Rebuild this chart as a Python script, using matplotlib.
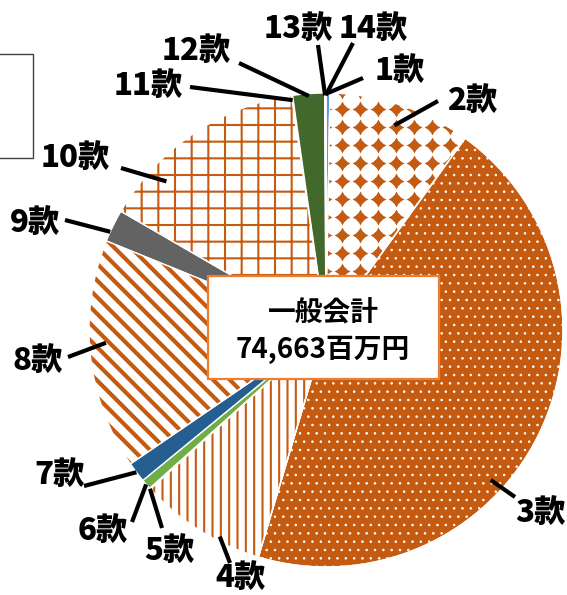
import numpy as np
import matplotlib
matplotlib.use('Agg')
import matplotlib.pyplot as plt
from matplotlib.patches import Wedge, Rectangle

plt.rcParams['font.family'] = ['Noto Sans CJK JP', 'DejaVu Sans']

# 一般会計 歳出内訳（百万円）
labels = ['1款', '2款', '3款', '4款', '5款', '6款', '7款',
          '8款', '9款', '10款', '11款', '12款', '13款', '14款']
values = [200, 7250, 33300, 6470, 60, 520, 1040,
          11700, 1660, 10680, 60, 1620, 30, 30]
total_text = ['一般会計', '74,663百万円']

ORANGE = '#C55A11'
colors = ['#5B9BD5', 'white', ORANGE, 'white', '#4472C4', '#70AD47', '#255E91',
          'white', '#636363', 'white', '#264478', '#43682B', '#698ED0', '#F1975A']
# hatch overlays: slice index -> (pattern, colour, hatch linewidth)
hatches = {2: ('..', 'white', 0.6), 3: ('||', ORANGE, 1.5),
           7: ('\\\\', ORANGE, 3.0), 9: ('+', ORANGE, 1.5)}
explode = [0, 0, 0.03, 0.01, 0.02, 0.02, 0.02, 0.04, 0.04, 0.01, 0, 0, 0, 0]

# layout (pixels, measured from the top-left corner)
W, H = 567, 595
cx, cy, R = 326, H - 330, 237
label_pos = [(400, 70), (472, 100), (540, 512), (240, 577), (169, 550), (103, 530), (60, 474),
             (38, 360), (35, 222), (75, 157), (148, 85), (196, 50), (298, 28), (373, 28)]
leader_from = [(363, 78), (438, 101), (515, 497), (230, 563), (162, 528), (132, 522), (84, 486),
               (68, 357), (65, 220), (121, 168), (190, 87), (239, 63), (318, 45), (353, 43)]
# where the leader touches its slice: (fraction along the slice, fraction of radius)
leader_at = [(0.5, 1.0), (0.5, 0.91), (0.6, 0.94), (0.34, 0.98), (0.5, 1.0), (0.5, 1.0), (0.5, 1.0),
             (0.55, 0.93), (0.3, 1.0), (0.25, 0.92), (0.5, 0.98), (0.5, 0.99), (0.5, 0.99), (0.5, 0.99)]

fig = plt.figure(figsize=(W / 100, H / 100), dpi=100)
ax = fig.add_axes([0, 0, 1, 1])

wedges, _ = ax.pie(values, colors=colors, startangle=90, counterclock=False,
                   explode=explode, radius=R, center=(cx, cy),
                   wedgeprops=dict(edgecolor='white', linewidth=1.0))

# 2款: orange four-pointed diamonds on white
w2 = wedges[1]
gx, gy = np.meshgrid(np.arange(0, W, 18), np.arange(0, H, 18))
for mk, sz in [('o', 45), ((4, 1, 0), 130)]:
    dots = ax.scatter(gx.ravel(), gy.ravel(), s=sz, marker=mk, c=ORANGE,
                      linewidths=0, zorder=2)
    dots.set_clip_path(w2)

# pattern fills
for i, (pat, hc, hlw) in hatches.items():
    w = wedges[i]
    with plt.rc_context({'hatch.linewidth': hlw}):
        ov = Wedge(w.center, w.r, w.theta1, w.theta2, facecolor='none',
                   edgecolor=hc, linewidth=0, hatch=pat, zorder=2)
    if hasattr(ov, 'set_hatch_linewidth'):
        ov.set_hatch_linewidth(hlw)
    ax.add_patch(ov)
    ax.add_patch(Wedge(w.center, w.r, w.theta1, w.theta2, facecolor='none',
                       edgecolor='white', linewidth=1.0, zorder=3))
ax.add_patch(Wedge(w2.center, w2.r, w2.theta1, w2.theta2, facecolor='none',
                   edgecolor='white', linewidth=1.0, zorder=3))

# labels with leader lines
for w, lab, (lx, ly), (fx, fy), (t, rf) in zip(wedges, labels, label_pos, leader_from, leader_at):
    ang = np.deg2rad(w.theta2 - t * (w.theta2 - w.theta1))
    tx = w.center[0] + rf * w.r * np.cos(ang)
    ty = w.center[1] + rf * w.r * np.sin(ang)
    ax.plot([fx, tx], [H - fy, ty], color='black', lw=3, solid_capstyle='butt', zorder=4)
    ax.text(lx, H - ly, lab, ha='center', va='center', fontsize=22.5,
            fontweight=900, color='black', zorder=6)

# centre box
ax.add_patch(Rectangle((208, H - 379), 231, 103, facecolor='white',
                       edgecolor='#ED7D31', linewidth=1.6, zorder=5))
ax.text(323, H - 313, total_text[0], ha='center', va='center', fontsize=20,
        fontweight='bold', zorder=6)
ax.text(323, H - 350, total_text[1], ha='center', va='center', fontsize=20,
        fontweight='bold', zorder=6)

# edge of a text box cut off on the left
ax.add_patch(Rectangle((-5, H - 158), 38, 104, facecolor='none',
                       edgecolor='#404040', linewidth=1.0, zorder=5))

ax.set_xlim(0, W)
ax.set_ylim(0, H)
ax.set_aspect('equal')
ax.axis('off')

fig.savefig('out.png', dpi=100)
